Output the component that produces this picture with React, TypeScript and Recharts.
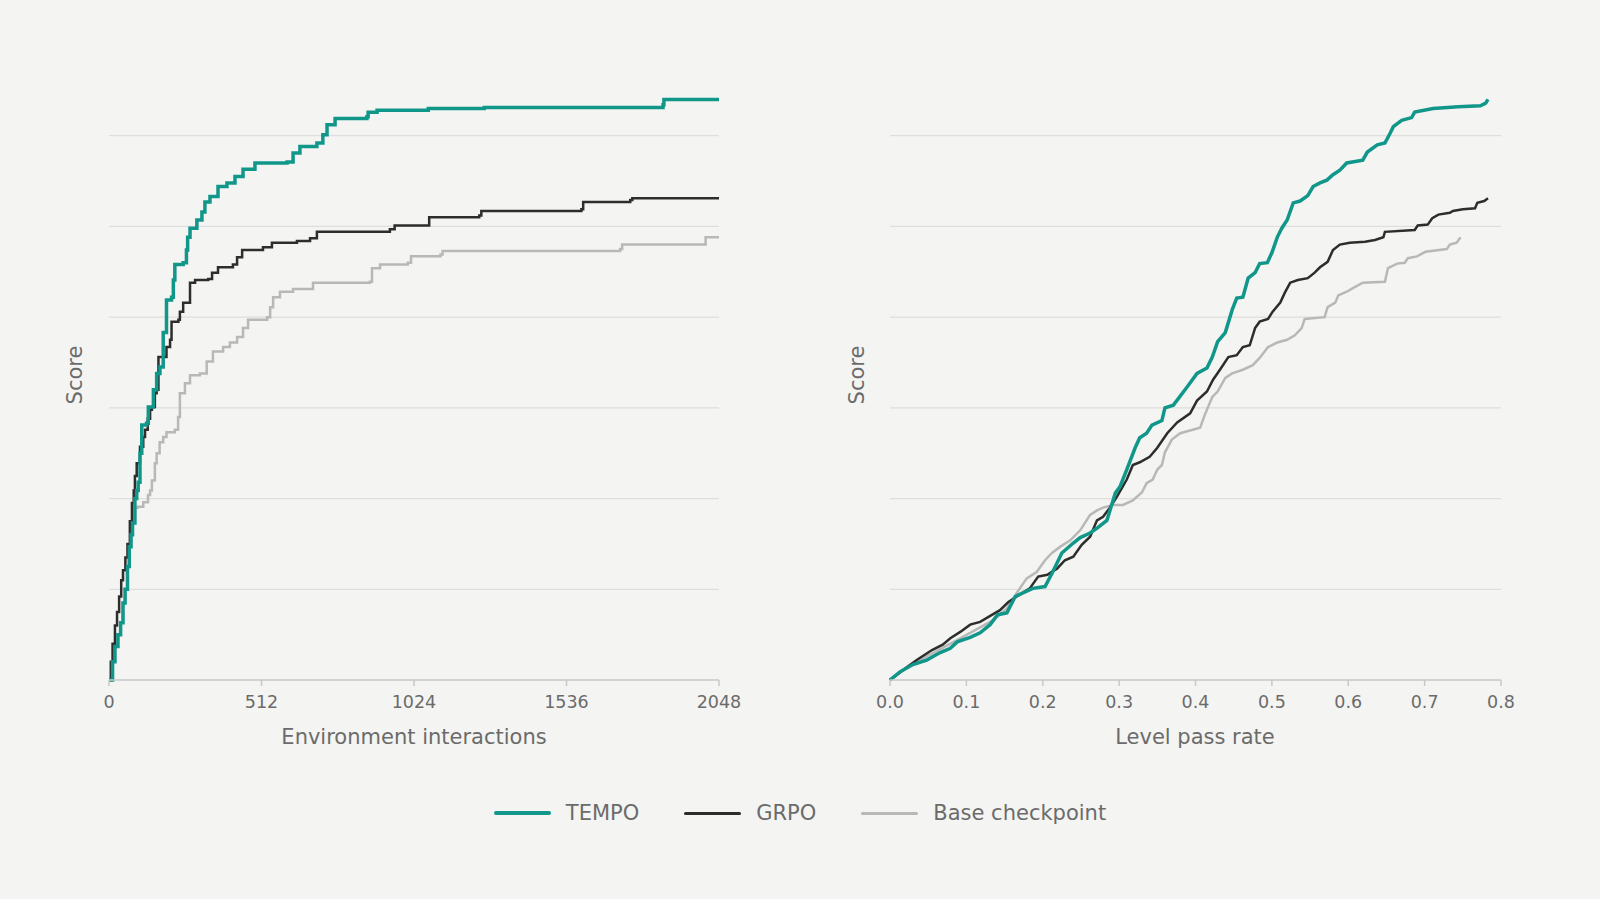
import { LineChart, Line, XAxis, YAxis, ReferenceLine } from 'recharts';

type Pt = [number, number];

// score vs environment interactions (step curves)
const tempoByInteractions: Pt[] = [
  [0, 0], [4, 0], [12, 0.02], [20, 0.037], [30, 0.05], [39, 0.063], [47, 0.085], [54, 0.1],
  [62, 0.125], [68, 0.147], [74, 0.16], [79, 0.173], [87, 0.2], [93, 0.209], [98, 0.218],
  [104, 0.25], [110, 0.281], [126, 0.283], [132, 0.301], [149, 0.32], [160, 0.338], [171, 0.345],
  [182, 0.383], [193, 0.419], [210, 0.422], [216, 0.441], [221, 0.458], [249, 0.46], [260, 0.474],
  [264, 0.488], [272, 0.498], [295, 0.507], [312, 0.516], [322, 0.527], [339, 0.533], [366, 0.544],
  [396, 0.548], [423, 0.555], [450, 0.563], [490, 0.57], [598, 0.571], [618, 0.581], [641, 0.588],
  [698, 0.592], [718, 0.601], [732, 0.612], [759, 0.619], [866, 0.621], [870, 0.626], [900, 0.628],
  [1072, 0.63], [1260, 0.631], [1860, 0.634], [1863, 0.64], [2048, 0.64],
];
const grpoByInteractions: Pt[] = [
  [0, 0], [6, 0.02], [12, 0.04], [20, 0.06], [27, 0.075], [34, 0.092], [41, 0.11], [47, 0.121],
  [55, 0.135], [62, 0.15], [70, 0.175], [77, 0.195], [83, 0.209], [87, 0.225], [93, 0.239],
  [104, 0.257], [115, 0.268], [121, 0.276], [130, 0.288], [138, 0.298], [144, 0.301], [154, 0.316],
  [160, 0.32], [166, 0.356], [193, 0.367], [205, 0.375], [210, 0.395], [233, 0.397], [238, 0.406],
  [249, 0.416], [266, 0.416], [272, 0.438], [289, 0.441], [333, 0.442], [346, 0.449], [366, 0.455],
  [416, 0.458], [430, 0.466], [447, 0.474], [517, 0.477], [547, 0.482], [631, 0.484], [675, 0.487],
  [698, 0.494], [943, 0.497], [959, 0.501], [1072, 0.501], [1075, 0.51], [1243, 0.512], [1250, 0.517],
  [1586, 0.519], [1592, 0.527], [1750, 0.529], [1757, 0.531], [2048, 0.531],
];
const baseByInteractions: Pt[] = [
  [0, 0], [4, 0], [12, 0.02], [20, 0.037], [30, 0.05], [39, 0.063], [47, 0.085], [54, 0.1],
  [62, 0.125], [68, 0.147], [74, 0.16], [79, 0.173], [87, 0.19], [97, 0.191], [115, 0.196],
  [131, 0.204], [138, 0.209], [144, 0.22], [154, 0.239], [160, 0.25], [170, 0.262], [182, 0.268],
  [193, 0.273], [221, 0.276], [232, 0.29], [238, 0.316], [255, 0.327], [272, 0.336], [305, 0.338],
  [328, 0.351], [349, 0.362], [383, 0.367], [406, 0.372], [430, 0.378], [450, 0.388], [467, 0.397],
  [531, 0.4], [541, 0.411], [551, 0.422], [574, 0.428], [618, 0.431], [685, 0.438], [876, 0.439],
  [883, 0.454], [910, 0.458], [1003, 0.46], [1014, 0.467], [1113, 0.469], [1120, 0.473], [1716, 0.475],
  [1723, 0.48], [1997, 0.48], [2003, 0.488], [2048, 0.488],
];

// score vs level pass rate
const tempoByPassRate: Pt[] = [
  [0, 0], [0.013, 0.009], [0.03, 0.017], [0.048, 0.022], [0.065, 0.03], [0.079, 0.035], [0.088, 0.042],
  [0.105, 0.047], [0.118, 0.052], [0.131, 0.061], [0.141, 0.072], [0.153, 0.074], [0.164, 0.092],
  [0.174, 0.096], [0.187, 0.101], [0.203, 0.103], [0.213, 0.119], [0.225, 0.14], [0.24, 0.151],
  [0.249, 0.157], [0.262, 0.162], [0.272, 0.168], [0.284, 0.176], [0.295, 0.206], [0.301, 0.213],
  [0.31, 0.232], [0.321, 0.256], [0.327, 0.267], [0.336, 0.272], [0.343, 0.281], [0.356, 0.286],
  [0.36, 0.3], [0.371, 0.303], [0.389, 0.323], [0.402, 0.338], [0.415, 0.344], [0.422, 0.356],
  [0.429, 0.373], [0.439, 0.383], [0.448, 0.408], [0.454, 0.421], [0.462, 0.422], [0.469, 0.443],
  [0.478, 0.449], [0.484, 0.459], [0.494, 0.46], [0.5, 0.471], [0.507, 0.488], [0.513, 0.498],
  [0.52, 0.507], [0.528, 0.526], [0.537, 0.528], [0.547, 0.534], [0.554, 0.544], [0.563, 0.548],
  [0.572, 0.551], [0.58, 0.557], [0.589, 0.562], [0.598, 0.57], [0.619, 0.573], [0.625, 0.582],
  [0.638, 0.59], [0.648, 0.592], [0.655, 0.603], [0.659, 0.61], [0.67, 0.617], [0.683, 0.62],
  [0.687, 0.626], [0.711, 0.63], [0.744, 0.632], [0.773, 0.633], [0.78, 0.636], [0.783, 0.64],
];
const grpoByPassRate: Pt[] = [
  [0, 0], [0.017, 0.011], [0.035, 0.022], [0.055, 0.033], [0.069, 0.039], [0.079, 0.046], [0.092, 0.053],
  [0.105, 0.061], [0.118, 0.064], [0.134, 0.072], [0.144, 0.077], [0.155, 0.086], [0.166, 0.092],
  [0.183, 0.101], [0.194, 0.114], [0.206, 0.116], [0.219, 0.123], [0.229, 0.132], [0.24, 0.136],
  [0.251, 0.149], [0.262, 0.158], [0.271, 0.176], [0.279, 0.18], [0.288, 0.19], [0.297, 0.202],
  [0.31, 0.221], [0.318, 0.237], [0.327, 0.24], [0.34, 0.246], [0.35, 0.256], [0.363, 0.272],
  [0.376, 0.284], [0.393, 0.294], [0.402, 0.308], [0.415, 0.318], [0.423, 0.331], [0.432, 0.342],
  [0.443, 0.356], [0.454, 0.358], [0.462, 0.367], [0.471, 0.369], [0.478, 0.388], [0.484, 0.395],
  [0.495, 0.398], [0.501, 0.406], [0.511, 0.416], [0.517, 0.427], [0.524, 0.438], [0.534, 0.441],
  [0.547, 0.443], [0.556, 0.449], [0.563, 0.455], [0.573, 0.461], [0.58, 0.474], [0.589, 0.48],
  [0.602, 0.482], [0.622, 0.483], [0.635, 0.485], [0.646, 0.488], [0.648, 0.494], [0.687, 0.496],
  [0.691, 0.501], [0.704, 0.502], [0.71, 0.509], [0.718, 0.513], [0.733, 0.515], [0.737, 0.517],
  [0.75, 0.519], [0.766, 0.52], [0.769, 0.526], [0.778, 0.528], [0.783, 0.531],
];
const baseByPassRate: Pt[] = [
  [0, 0], [0.013, 0.008], [0.03, 0.017], [0.05, 0.027], [0.07, 0.036], [0.09, 0.045], [0.105, 0.052],
  [0.135, 0.066], [0.153, 0.079], [0.166, 0.096], [0.179, 0.112], [0.192, 0.119], [0.203, 0.132],
  [0.212, 0.14], [0.223, 0.147], [0.236, 0.154], [0.249, 0.165], [0.262, 0.182], [0.271, 0.187],
  [0.279, 0.19], [0.292, 0.193], [0.305, 0.193], [0.318, 0.198], [0.33, 0.207], [0.336, 0.217],
  [0.344, 0.221], [0.35, 0.232], [0.356, 0.237], [0.36, 0.251], [0.369, 0.265], [0.38, 0.272],
  [0.406, 0.278], [0.412, 0.292], [0.422, 0.312], [0.429, 0.318], [0.439, 0.333], [0.448, 0.338],
  [0.462, 0.342], [0.475, 0.347], [0.484, 0.355], [0.495, 0.367], [0.507, 0.372], [0.52, 0.375],
  [0.53, 0.38], [0.539, 0.388], [0.543, 0.398], [0.569, 0.4], [0.573, 0.411], [0.583, 0.416],
  [0.587, 0.424], [0.598, 0.428], [0.606, 0.432], [0.619, 0.438], [0.648, 0.439], [0.652, 0.454],
  [0.664, 0.459], [0.674, 0.46], [0.678, 0.465], [0.69, 0.467], [0.701, 0.472], [0.729, 0.475],
  [0.733, 0.48], [0.742, 0.482], [0.747, 0.488],
];

const interactionTicks = [0, 512, 1024, 1536, 2048];
const passRateTicks = [0, 0.1, 0.2, 0.3, 0.4, 0.5, 0.6, 0.7, 0.8];
const scoreGrid = [0.1, 0.2, 0.3, 0.4, 0.5, 0.6];

const series = [
  { name: 'TEMPO', color: '#11968a', width: 3.5 },
  { name: 'GRPO', color: '#2d2d2d', width: 2.5 },
  { name: 'Base checkpoint', color: '#b8b8b8', width: 2.5 },
];

const FONT = '"DejaVu Sans", sans-serif';
const TEXT = '#6b6b6b';
const AXIS = '#c8c8c8';

const toRows = (pts: Pt[]) => pts.map(([x, y]) => ({ x, y }));

type PanelProps = {
  left: number;
  marginLeft: number;
  marginRight: number;
  domain: [number, number];
  ticks: number[];
  fmt: (v: number) => string;
  lines: Pt[][];
  curve: 'stepAfter' | 'linear';
};

const Panel = ({ left, marginLeft, marginRight, domain, ticks, fmt, lines, curve }: PanelProps) => (
  <div style={{ position: 'absolute', left, top: 0 }}>
    <LineChart
      width={760}
      height={760}
      margin={{ top: 45, right: marginRight, bottom: 50, left: marginLeft }}
    >
      <XAxis
        type="number"
        dataKey="x"
        domain={domain}
        ticks={ticks}
        tickFormatter={fmt}
        height={30}
        stroke={AXIS}
        strokeWidth={1.5}
        tickSize={6}
        tickMargin={10}
        tick={{ fill: TEXT, fontSize: 17.5, fontFamily: FONT }}
        interval={0}
      />
      <YAxis hide type="number" domain={[0, 0.7]} />
      {scoreGrid.map((g) => (
        <ReferenceLine key={g} y={g} stroke="#dedede" strokeWidth={1.2} />
      ))}
      {lines
        .map((pts, i) => (
          <Line
            key={series[i].name}
            data={toRows(pts)}
            dataKey="y"
            type={curve}
            stroke={series[i].color}
            strokeWidth={series[i].width}
            dot={false}
            activeDot={false}
            isAnimationActive={false}
          />
        ))
        .reverse()}
    </LineChart>
  </div>
);

const labelStyle = {
  position: 'absolute' as const,
  fontFamily: FONT,
  fontSize: 21,
  lineHeight: '21px',
  color: TEXT,
  whiteSpace: 'nowrap' as const,
};

const App = () => (
  <div
    style={{
      position: 'fixed',
      left: 0,
      top: 0,
      width: 1600,
      height: 899,
      background: '#f4f4f2',
      overflow: 'hidden',
    }}
  >
    <Panel
      left={0}
      marginLeft={109}
      marginRight={41}
      domain={[0, 2048]}
      ticks={interactionTicks}
      fmt={(v) => String(v)}
      lines={[tempoByInteractions, grpoByInteractions, baseByInteractions]}
      curve="stepAfter"
    />
    <Panel
      left={800}
      marginLeft={90}
      marginRight={59}
      domain={[0, 0.8]}
      ticks={passRateTicks}
      fmt={(v) => v.toFixed(1)}
      lines={[tempoByPassRate, grpoByPassRate, baseByPassRate]}
      curve="linear"
    />

    <div style={{ ...labelStyle, left: 214, width: 400, textAlign: 'center', top: 727 }}>
      Environment interactions
    </div>
    <div style={{ ...labelStyle, left: 995, width: 400, textAlign: 'center', top: 727 }}>
      Level pass rate
    </div>
    {[75, 857].map((cx) => (
      <div
        key={cx}
        style={{ ...labelStyle, left: cx, top: 375, transform: 'translate(-50%, -50%) rotate(-90deg)' }}
      >
        Score
      </div>
    ))}

    <div
      style={{
        position: 'absolute',
        left: 0,
        top: 801,
        width: 1600,
        height: 24,
        display: 'flex',
        justifyContent: 'center',
        alignItems: 'center',
        fontFamily: FONT,
        fontSize: 21,
        color: TEXT,
      }}
    >
      {series.map((s, i) => (
        <div
          key={s.name}
          style={{ display: 'flex', alignItems: 'center', marginRight: i < series.length - 1 ? 45 : 0 }}
        >
          <span
            style={{
              display: 'inline-block',
              width: 57,
              height: s.width + 0.5,
              borderRadius: 2,
              background: s.color,
              marginRight: 15,
            }}
          />
          <span>{s.name}</span>
        </div>
      ))}
    </div>
  </div>
);

export default App;
